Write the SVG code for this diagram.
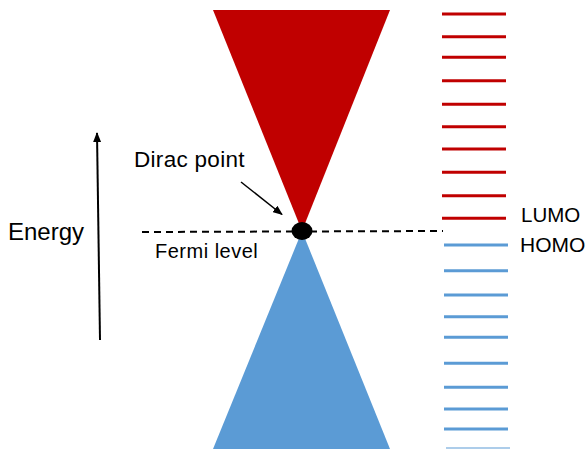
<svg xmlns="http://www.w3.org/2000/svg" width="585" height="449" viewBox="0 0 585 449">
<style>
text{font-family:"Liberation Sans",Arial,sans-serif;fill:#000}
.r{stroke:#C00000;stroke-width:3}
.b{stroke:#5B9BD5;stroke-width:3}
</style>
<defs>
<marker id="ah" markerWidth="10" markerHeight="8" refX="9" refY="4" orient="auto" markerUnits="userSpaceOnUse"><path d="M0,0 L10,4 L0,8 Z" fill="#000"/></marker>
</defs>
<rect width="585" height="449" fill="#fff"/>
<g id="conduction-cone"><polygon points="213,10 390,10 302,231" fill="#C00000"/></g>
<g id="valence-cone"><polygon points="213,449 390,449 302,231" fill="#5B9BD5"/></g>
<g id="levels-lumo">
<line class="r" x1="442" y1="14" x2="506" y2="14"/>
<line class="r" x1="442" y1="36.7" x2="506" y2="36.7"/>
<line class="r" x1="442" y1="57.3" x2="506" y2="57.3"/>
<line class="r" x1="442" y1="80.7" x2="506" y2="80.7"/>
<line class="r" x1="442" y1="104.3" x2="506" y2="104.3"/>
<line class="r" x1="442" y1="126.7" x2="506" y2="126.7"/>
<line class="r" x1="442" y1="149" x2="506" y2="149"/>
<line class="r" x1="442" y1="172.3" x2="506" y2="172.3"/>
<line class="r" x1="442" y1="195.7" x2="506" y2="195.7"/>
<line class="r" x1="442" y1="218.3" x2="506" y2="218.3"/>
</g>
<g id="levels-homo">
<line class="b" x1="444" y1="245" x2="508" y2="245"/>
<line class="b" x1="444" y1="270.7" x2="508" y2="270.7"/>
<line class="b" x1="444" y1="295" x2="508" y2="295"/>
<line class="b" x1="444" y1="316.7" x2="508" y2="316.7"/>
<line class="b" x1="444" y1="337.3" x2="508" y2="337.3"/>
<line class="b" x1="444" y1="363.3" x2="508" y2="363.3"/>
<line class="b" x1="444" y1="387.3" x2="508" y2="387.3"/>
<line class="b" x1="444" y1="409" x2="508" y2="409"/>
<line class="b" x1="444" y1="429" x2="508" y2="429"/>
<line class="b" x1="446" y1="448.5" x2="510" y2="448.5" stroke-opacity="0.5"/>
</g>
<g id="connectors" fill="none" stroke="#000">
<line x1="142" y1="232" x2="443" y2="231" stroke-width="2" stroke-dasharray="7,5"/>
<line x1="241" y1="182" x2="282" y2="214.5" stroke-width="1.5" marker-end="url(#ah)"/>
<line x1="100" y1="340" x2="97" y2="133" stroke-width="2" marker-end="url(#ah)"/>
</g>
<g id="dirac-point"><ellipse cx="302" cy="231" rx="10.5" ry="9" fill="#000"/></g>
<g id="labels">
<text x="134" y="166.5" font-size="22.5" letter-spacing="0.3">Dirac point</text>
<text x="8" y="239.5" font-size="24">Energy</text>
<text x="155" y="257.5" font-size="20" letter-spacing="0.5">Fermi level</text>
<text x="521" y="222" font-size="20.5">LUMO</text>
<text x="520" y="252" font-size="21">HOMO</text>
</g>
</svg>
